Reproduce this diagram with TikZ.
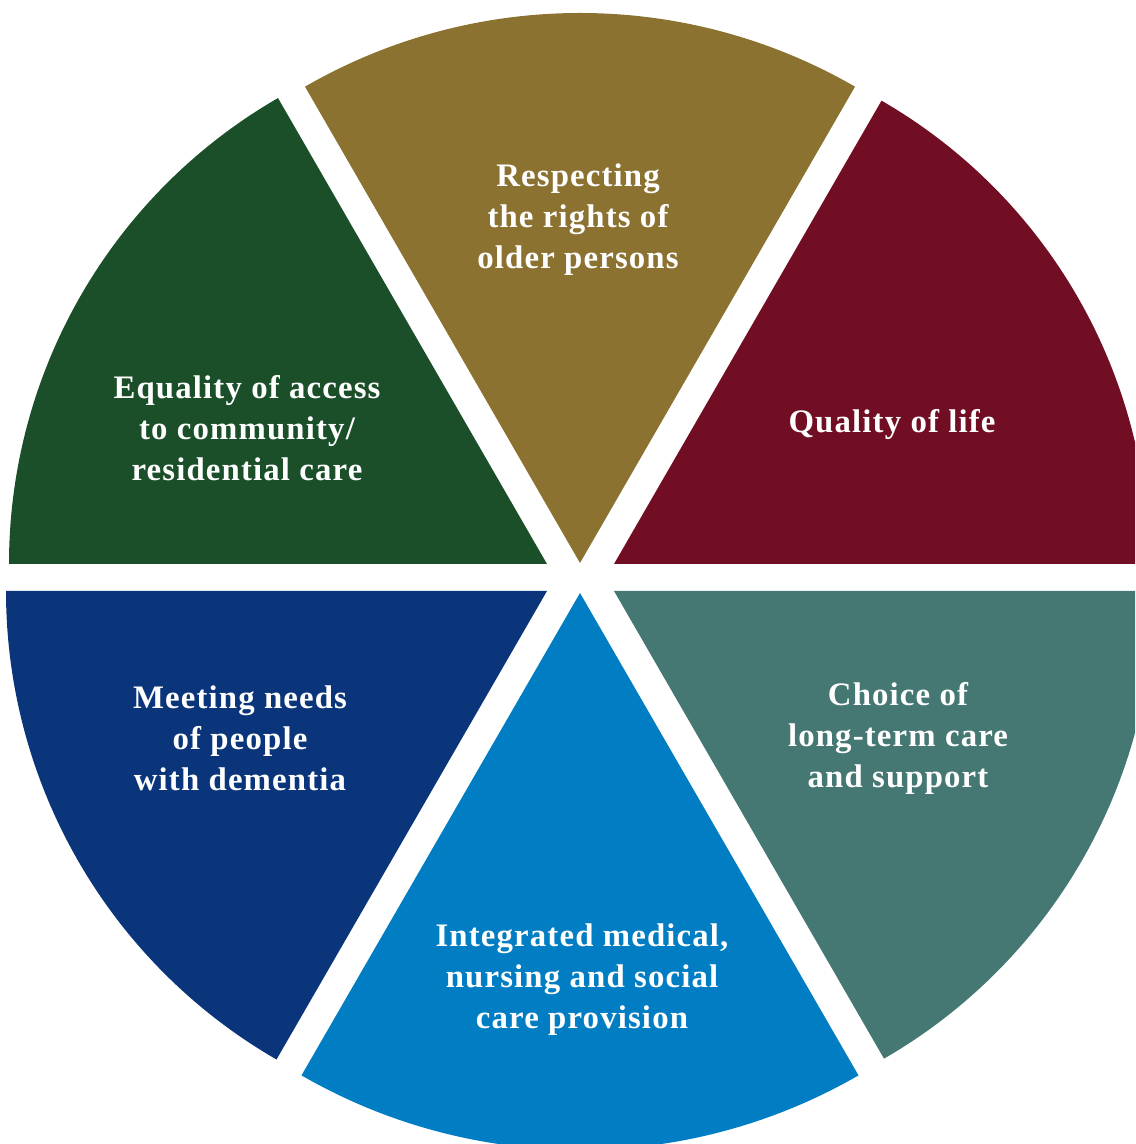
\documentclass[tikz,border=0pt]{standalone}
\usepackage{fontspec}
\setmainfont{Liberation Serif}[LetterSpace=3.5]
\definecolor{rightsgold}{RGB}{139,114,48}
\definecolor{lifered}{RGB}{114,14,36}
\definecolor{accessgreen}{RGB}{27,79,42}
\definecolor{dementiablue}{RGB}{10,53,122}
\definecolor{careblue}{RGB}{0,125,195}
\definecolor{choiceteal}{RGB}{69,120,115}
\tikzset{
  txt/.style={text=white, align=center, font=\bfseries\fontsize{16.4}{20.5}\selectfont},
}
\begin{document}
\begin{tikzpicture}[x=0.5pt,y=0.5pt]
                \useasboundingbox (0,0) rectangle (1135,1144);
                \clip (0,0) rectangle (1135,1144);
                % tips of the six slices
                \coordinate (tR) at (580,581);
                \coordinate (tQ) at (614,580);
                \coordinate (tE) at (547,580);
                \coordinate (tM) at (547,553);
                \coordinate (tC) at (614,553);
                \coordinate (tI) at (580,551);
                \fill[rightsgold] (tR) -- ++(60:550) arc[start angle=60, end angle=120, radius=550] -- cycle;
                \fill[lifered] (tQ) -- ++(0:535) arc[start angle=0, end angle=60, radius=535] -- cycle;
                \fill[accessgreen] (tE) -- ++(120:538) arc[start angle=120, end angle=180, radius=538] -- cycle;
                \fill[dementiablue] (tM) -- ++(180:541) arc[start angle=180, end angle=240, radius=541] -- cycle;
                \fill[careblue] (tI) -- ++(240:557) arc[start angle=240, end angle=300, radius=557] -- cycle;
                \fill[choiceteal] (tC) -- ++(300:540) arc[start angle=300, end angle=360, radius=540] -- cycle;
                \node[txt] (rights) at (578,924) {Respecting\\the rights of\\older persons};
                \node[txt] (life) at (892,719) {Quality of life};
                \node[txt] (access) at (247,716) {Equality of access\\to community/\\residential care};
                \node[txt] (dementia) at (240,406) {Meeting needs\\of people\\with dementia};
                \node[txt] (choice) at (898,406) {Choice of\\long-term care\\and support};
                \node[txt] (integrated) at (582,164) {Integrated medical,\\nursing and social\\care provision};
            \end{tikzpicture}
\end{document}
